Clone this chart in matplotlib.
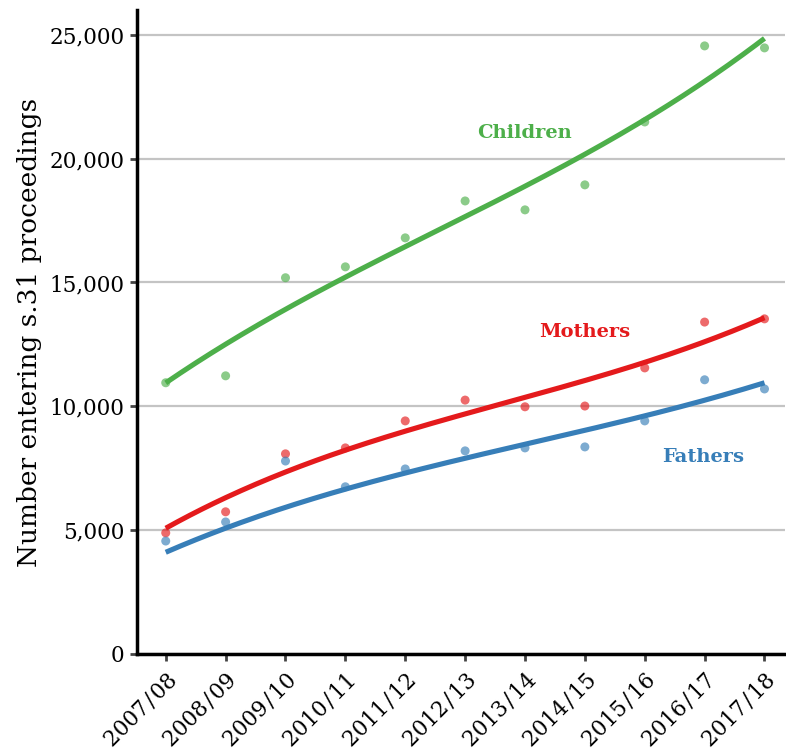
import numpy as np
import matplotlib
matplotlib.use("Agg")
import matplotlib.pyplot as plt

years = ["2007/08", "2008/09", "2009/10", "2010/11", "2011/12", "2012/13",
         "2013/14", "2014/15", "2015/16", "2016/17", "2017/18"]

# Observed counts per year
children = [10950, 11230, 15190, 15630, 16800, 18290, 17930, 18940, 21480, 24550, 24470]
mothers = [4890, 5740, 8080, 8320, 9410, 10250, 9980, 10010, 11550, 13400, 13530]
fathers = [4560, 5330, 7790, 6750, 7470, 8200, 8320, 8360, 9410, 11070, 10700]

# Modelled trend per year
children_trend = [10960, 12480, 13890, 15240, 16520, 17600, 18870, 20150, 21570, 23180, 24820]
mothers_trend = [5100, 6250, 7360, 8240, 9050, 9720, 10260, 11000, 11810, 12680, 13530]
fathers_trend = [4130, 5040, 5880, 6690, 7400, 7900, 8370, 8980, 9650, 10330, 10900]

colors = {"Children": "#4DAF4A", "Mothers": "#E41A1C", "Fathers": "#377EB8"}
label_pos = {"Children": (6.0, 21040), "Mothers": (7.0, 13000), "Fathers": (8.98, 7960)}

plt.rcParams["font.family"] = ["DejaVu Serif"]

fig = plt.figure(figsize=(7.86, 7.51), dpi=100)
ax = fig.add_axes([0.1743, 0.1292, 0.825, 0.8575])

x = np.arange(len(years))
xs = np.linspace(0, len(years) - 1, 200)
series = [("Children", children, children_trend),
          ("Mothers", mothers, mothers_trend),
          ("Fathers", fathers, fathers_trend)]
for name, vals, trend in series:
    c = colors[name]
    ax.scatter(x, vals, s=42, color=c, alpha=0.65, edgecolor="none", zorder=2)
    coef = np.polyfit(x, trend, 3)
    ax.plot(xs, np.polyval(coef, xs), color=c, lw=3.7, zorder=3,
            solid_capstyle="butt")
    lx, ly = label_pos[name]
    ax.text(lx, ly, name, color=c, fontsize=14, fontweight="bold",
            ha="center", va="center")

ax.set_xlim(-0.48, 10.35)
ax.set_ylim(0, 26000)
ax.set_yticks([0, 5000, 10000, 15000, 20000, 25000])
ax.set_yticklabels(["0", "5,000", "10,000", "15,000", "20,000", "25,000"])
ax.set_xticks(x)
ax.set_xticklabels([y.replace("/", "\u200a/\u200a") for y in years],
                   rotation=45, ha="right", rotation_mode="anchor")
ax.tick_params(axis="both", labelsize=15.5, length=5, width=2, color="#444444",
               direction="out")
ax.tick_params(axis="y", pad=4)
ax.tick_params(axis="x", pad=6)
ax.yaxis.grid(True, color="#c4c4c4", lw=1.6)
ax.set_axisbelow(True)
for s in ["top", "right"]:
    ax.spines[s].set_visible(False)
for s in ["left", "bottom"]:
    ax.spines[s].set_linewidth(2.5)
    ax.spines[s].set_color("black")
ax.set_ylabel("Number entering s.31 proceedings", fontsize=19, labelpad=5)

fig.savefig("out.png", dpi=100)
